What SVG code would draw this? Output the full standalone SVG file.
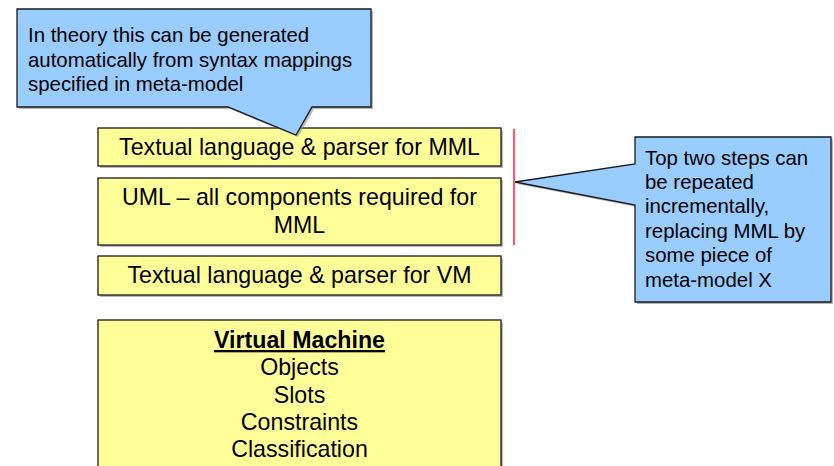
<svg xmlns="http://www.w3.org/2000/svg" width="834" height="466" viewBox="0 0 834 466">
<style>
.box{fill:#FFFF99;stroke:#1a1a1a;stroke-width:1.3}
.call{fill:#99CCFF;stroke:#1a1a1a;stroke-width:1.3;stroke-linejoin:miter}
.shadow{fill:#888;opacity:0.6}
.t{font-family:"Liberation Sans",Arial,sans-serif;font-size:23.2px;fill:#000;text-anchor:middle}
.c{font-family:"Liberation Sans",Arial,sans-serif;font-size:20.4px;fill:#000}
</style>
<rect width="834" height="466" fill="#fff"/>
<g id="n-mml-parser">
<rect class="shadow" x="100" y="130" width="403" height="38"/>
<rect class="box" x="98" y="128" width="403" height="38"/>
<text class="t" x="299.5" y="155">Textual language &amp; parser for MML</text>
</g>
<g id="n-uml">
<rect class="shadow" x="100" y="180" width="403" height="67"/>
<rect class="box" x="98" y="178" width="403" height="67"/>
<text class="t" x="299.5" y="205">UML – all components required for</text>
<text class="t" x="299.5" y="233">MML</text>
</g>
<g id="n-vm-parser">
<rect class="shadow" x="100" y="258" width="403" height="39"/>
<rect class="box" x="98" y="256" width="403" height="39"/>
<text class="t" x="299.5" y="283">Textual language &amp; parser for VM</text>
</g>
<g id="n-vm">
<rect class="shadow" x="100" y="322" width="403" height="150"/>
<rect class="box" x="98" y="320" width="403" height="150"/>
<text class="t" x="299.5" y="348" font-weight="bold" text-decoration="underline">Virtual Machine</text>
<text class="t" x="299.5" y="375">Objects</text>
<text class="t" x="299.5" y="403">Slots</text>
<text class="t" x="299.5" y="430">Constraints</text>
<text class="t" x="299.5" y="457">Classification</text>
</g>
<g id="connectors">
<line x1="514" y1="129" x2="514" y2="245" stroke="#F0607A" stroke-width="2.2"/>
</g>
<g id="n-callout-top">
<path class="shadow" d="M19,11 H373 V109 H314 L298,137 L230,109 H19 Z"/>
<path class="call" d="M17,9 H371 V107 H312 L296,135 L228,107 H17 Z"/>
<text class="c" x="28" y="42">In theory this can be generated</text>
<text class="c" x="28" y="67">automatically from syntax mappings</text>
<text class="c" x="28" y="91">specified in meta-model</text>
</g>
<g id="n-callout-right">
<path class="shadow" d="M637,139 H833 V304 H637 V207 L517,184 L637,166 Z"/>
<path class="call" d="M635,137 H831 V302 H635 V205 L515,182 L635,164 Z"/>
<text class="c" x="645" y="165">Top two steps can</text>
<text class="c" x="645" y="189">be repeated</text>
<text class="c" x="645" y="213">incrementally,</text>
<text class="c" x="645" y="238">replacing MML by</text>
<text class="c" x="645" y="262">some piece of</text>
<text class="c" x="645" y="287">meta-model X</text>
</g>
</svg>
